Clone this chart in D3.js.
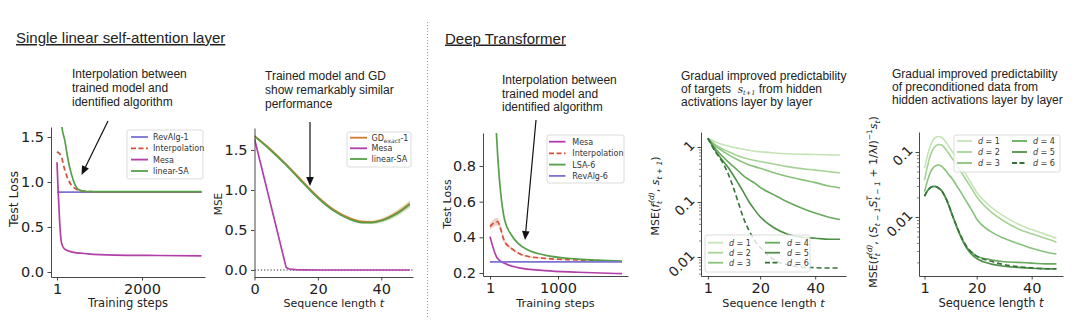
<!DOCTYPE html>
<html><head><meta charset="utf-8">
<script src="https://cdn.jsdelivr.net/npm/d3@7"></script>
<style>body{margin:0;background:#fff}svg{display:block}text{white-space:pre}</style>
</head><body>
<svg id="c" width="1080" height="336"></svg>
<script>
// ---------- DATA ----------
// Panel 1: single linear self-attention layer (test loss vs training steps)
const p1RevAlgSteps = [1, 3400];
const p1RevAlg = [0.888, 0.888];
const p1InterpSteps = [1, 50, 103, 181, 260, 338, 456, 573, 808, 1200, 2000, 3400];
const p1Interp = [1.335, 1.32, 1.28, 1.14, 1.03, 0.967, 0.92, 0.90, 0.892, 0.89, 0.89, 0.89];
const p1MesaSteps = [1, 30, 64, 103, 181, 338, 730, 1360, 2400, 3400];
const p1Mesa = [1.22, 0.88, 0.555, 0.335, 0.254, 0.224, 0.202, 0.188, 0.183, 0.18];
const p1LsaSteps = [1, 60, 119, 181, 260, 338, 417, 495, 652, 808, 1200, 2000, 3400];
const p1Lsa = [2.3, 1.9, 1.6, 1.47, 1.25, 1.09, 0.98, 0.92, 0.897, 0.893, 0.892, 0.892, 0.892];
const p1XTicks = [1, 2000];
const p1YTicks = [0, 0.5, 1.0, 1.5];

// Panel 2: MSE vs sequence length
const p2T = [0, 5, 10, 15, 20, 25, 30, 34, 37, 40, 45, 49];
const p2Gd = [1.675, 1.51, 1.32, 1.115, 0.915, 0.755, 0.65, 0.605, 0.6, 0.622, 0.715, 0.828];
const p2Lsa = [1.67, 1.50, 1.31, 1.10, 0.90, 0.74, 0.635, 0.592, 0.592, 0.615, 0.705, 0.82];
const p2Spread = [0.008, 0.008, 0.008, 0.008, 0.008, 0.01, 0.012, 0.015, 0.02, 0.025, 0.035, 0.045];
const p2MesaT = [0, 10, 11, 13, 16, 20, 30, 40, 49];
const p2Mesa = [1.64, 0.03, 0.012, 0.004, 0.001, 0, 0, 0, 0];
const p2XTicks = [0, 20, 40];
const p2YTicks = [0, 0.5, 1.0, 1.5];

// Panel 3: deep transformer test loss
const p3MesaSteps = [1, 109, 216, 413, 805, 1295, 1940];
const p3Mesa = [0.404, 0.282, 0.254, 0.23, 0.213, 0.204, 0.196];
const p3InterpSteps = [1, 109, 216, 315, 413, 511, 805, 1295, 1940];
const p3Interp = [0.46, 0.488, 0.376, 0.338, 0.312, 0.297, 0.282, 0.273, 0.264];
const p3InterpSpread = [0.018, 0.022, 0.012, 0.008, 0.006, 0.005, 0.004, 0.003, 0.003];
const p3LsaSteps = [1, 100, 216, 315, 413, 560, 805, 1295, 1940];
const p3Lsa = [1.9, 0.95, 0.497, 0.413, 0.366, 0.329, 0.30, 0.278, 0.267];
const p3RevAlgSteps = [1, 1940];
const p3RevAlg = [0.262, 0.262];
const p3XTicks = [1, 1000];
const p3YTicks = [0.2, 0.4, 0.6, 0.8];

// Panel 4: MSE of targets per layer d
const p4T = [1, 4, 6, 8, 10, 12, 14, 16, 18, 20, 25, 30, 35, 40, 45, 49];
const p4d1 = [1.44, 1.22, 1.12, 1.05, 0.99, 0.95, 0.91, 0.87, 0.84, 0.82, 0.78, 0.755, 0.74, 0.73, 0.72, 0.715];
const p4d2 = [1.44, 1.08, 0.94, 0.84, 0.76, 0.69, 0.64, 0.60, 0.57, 0.545, 0.49, 0.44, 0.405, 0.38, 0.355, 0.34];
const p4d3 = [1.44, 1.02, 0.87, 0.75, 0.655, 0.58, 0.52, 0.47, 0.44, 0.41, 0.34, 0.29, 0.255, 0.225, 0.195, 0.18];
const p4d4 = [1.44, 0.90, 0.70, 0.56, 0.455, 0.37, 0.30, 0.255, 0.22, 0.185, 0.135, 0.10, 0.078, 0.063, 0.053, 0.048];
const p4d5 = [1.44, 0.82, 0.60, 0.45, 0.32, 0.22, 0.15, 0.10, 0.072, 0.054, 0.034, 0.026, 0.023, 0.022, 0.021, 0.021];
const p4d6 = [1.44, 0.78, 0.56, 0.36, 0.20, 0.10, 0.05, 0.03, 0.02, 0.015, 0.009, 0.0072, 0.0066, 0.0064, 0.0063, 0.0063];
const p4XTicks = [1, 20, 40];
const p4YTicks = [0.01, 0.1, 1];

// Panel 5: MSE of preconditioned data per layer d
const p5T = [1, 2, 3, 4, 5, 6, 7, 8, 9, 10, 11, 12, 13, 14, 16, 18, 20, 25, 30, 35, 40, 45, 49];
const p5d1 = [0.056, 0.085, 0.12, 0.15, 0.167, 0.173, 0.17, 0.157, 0.138, 0.12, 0.103, 0.089, 0.076, 0.064, 0.046, 0.033, 0.024, 0.0145, 0.0102, 0.0078, 0.0064, 0.0054, 0.0047];
const p5d2 = [0.037, 0.058, 0.085, 0.108, 0.123, 0.13, 0.129, 0.12, 0.106, 0.093, 0.08, 0.07, 0.06, 0.052, 0.038, 0.028, 0.0205, 0.0122, 0.0086, 0.0066, 0.0055, 0.0047, 0.0041];
const p5d3 = [0.0245, 0.035, 0.047, 0.056, 0.061, 0.063, 0.061, 0.056, 0.05, 0.044, 0.039, 0.034, 0.029, 0.025, 0.018, 0.0132, 0.0093, 0.006, 0.0047, 0.0039, 0.0033, 0.0029, 0.0027];
const p5d4 = [0.021, 0.025, 0.028, 0.0295, 0.0295, 0.028, 0.026, 0.0225, 0.0185, 0.0145, 0.011, 0.0085, 0.0066, 0.0053, 0.0036, 0.0029, 0.0025, 0.0022, 0.00205, 0.002, 0.00195, 0.0019, 0.0019];
const p5d5 = [0.021, 0.025, 0.028, 0.0295, 0.0295, 0.028, 0.026, 0.0225, 0.0185, 0.0145, 0.011, 0.0085, 0.0066, 0.0052, 0.0035, 0.0027, 0.0023, 0.0019, 0.00175, 0.00168, 0.00163, 0.0016, 0.00158];
const p5d6 = [0.021, 0.025, 0.028, 0.0295, 0.0295, 0.028, 0.026, 0.0225, 0.0185, 0.0145, 0.011, 0.0086, 0.0067, 0.0054, 0.0037, 0.0029, 0.0025, 0.0021, 0.00185, 0.00172, 0.00165, 0.0016, 0.0016];
const p5XTicks = [1, 20, 40];
const p5YTicks = [0.01, 0.1];

// ---------- STYLE ----------
const COL = {revalg:'#7b72d3', interp:'#d4503e', mesa:'#b23fa8', lsa:'#55a047', gd:'#d27a2e'};
const GREENS = ['#c5e4b6','#a6d396','#88c27a','#68aa5d','#4e9049','#36713a'];
const SANS = 'DejaVu Sans, sans-serif';
const ARIAL = 'Liberation Sans, Arial, sans-serif';
const svg = d3.select('#c');

function rich(parent, x, y, segs, base){
  const t = parent.append('text').attr('x',x).attr('y',y)
    .attr('font-family',base.family||SANS).attr('font-size',base.size||11).attr('fill',base.fill||'#222');
  if(base.anchor) t.attr('text-anchor',base.anchor);
  if(base.transform) t.attr('transform',base.transform);
  let cur = 0;
  segs.forEach(s=>{
    const off = s.off||0;
    const ts = t.append('tspan').text(s.t).attr('dy',off-cur);
    cur = off;
    if(s.size) ts.attr('font-size',s.size);
    if(s.it) ts.attr('font-style','italic');
    if(s.dx) ts.attr('dx',s.dx);
    if(s.fam) ts.attr('font-family',s.fam);
  });
  return t;
}

function panel(o){
  const x = d3.scaleLinear().domain(o.xd).range([o.L,o.R]);
  const y = (o.log?d3.scaleLog():d3.scaleLinear()).domain(o.yd).range([o.B,o.T]);
  const id = 'clip'+o.id;
  svg.append('clipPath').attr('id',id).append('rect')
    .attr('x',o.L).attr('y',o.T).attr('width',o.R-o.L).attr('height',o.B-o.T);
  const plot = svg.append('g').attr('clip-path',`url(#${id})`);
  return {x,y,plot,o};
}

function line(p, xs, ys, opt){
  const data = xs.map((d,i)=>[d, ys[i]]);
  const gen = d3.line().x(d=>p.x(d[0])).y(d=>p.y(d[1])).curve(opt.curve||d3.curveMonotoneX);
  p.plot.append('path').attr('d',gen(data)).attr('fill','none')
    .attr('stroke',opt.color).attr('stroke-width',opt.w||1.7)
    .attr('stroke-dasharray',opt.dash||null).attr('stroke-linejoin','round');
}
function band(p, xs, ys, hw, color, op){
  const data = xs.map((d,i)=>[d, ys[i], hw[i]]);
  const gen = d3.area().x(d=>p.x(d[0])).y0(d=>p.y(d[1]-d[2])).y1(d=>p.y(d[1]+d[2])).curve(d3.curveMonotoneX);
  p.plot.append('path').attr('d',gen(data)).attr('fill',color).attr('opacity',op);
}

function axes(p, xt, yt, yfmt, opts){
  const o = p.o; opts = opts||{};
  const fs = opts.fs||14.5;
  const gx = svg.append('g').attr('transform',`translate(0,${o.B})`)
    .call(d3.axisBottom(p.x).tickValues(xt).tickSize(3.5).tickPadding(3).tickSizeOuter(0).tickFormat(d3.format('d')));
  const gy = svg.append('g').attr('transform',`translate(${o.L},0)`)
    .call(d3.axisLeft(p.y).tickValues(yt).tickSize(3.5).tickPadding(3.5).tickSizeOuter(0).tickFormat(yfmt));
  if(o.log && opts.minor){
    svg.append('g').attr('transform',`translate(${o.L},0)`)
      .call(d3.axisLeft(p.y).tickValues(opts.minor).tickSize(2).tickFormat('').tickSizeOuter(0))
      .call(g=>g.select('.domain').remove())
      .call(g=>g.selectAll('line').attr('stroke','#333').attr('stroke-width',0.6));
  }
  [gx,gy].forEach(g=>{
    g.select('.domain').attr('stroke','#333').attr('stroke-width',0.9);
    g.selectAll('.tick line').attr('stroke','#333').attr('stroke-width',0.9);
    g.selectAll('text').attr('font-family',SANS).attr('font-size',fs).attr('fill','#222');
  });
  if(opts.rot){
    gy.selectAll('.tick text').attr('x',0).attr('dy',0).attr('text-anchor','end')
      .attr('font-size',13.5).attr('transform','translate(-5.5,-1) rotate(-45)');
  }
}

function legend(box, items, rows, cols, fs){
  svg.append('rect').attr('x',box[0]).attr('y',box[1]).attr('width',box[2]).attr('height',box[3])
    .attr('rx',2).attr('fill','#fff').attr('fill-opacity',0.8).attr('stroke','#d3d3d3').attr('stroke-width',0.8);
  items.forEach((it,i)=>{
    const c = cols[Math.floor(i/rows.length)], yy = rows[i%rows.length];
    svg.append('line').attr('x1',c[0]).attr('x2',c[1]).attr('y1',yy).attr('y2',yy)
      .attr('stroke',it.color).attr('stroke-width',1.8).attr('stroke-dasharray',it.dash||null);
    rich(svg, c[2], yy+2.9, it.seg, {size:fs||8, fill:'#333'});
  });
}

function arrow(x1,y1,x2,y2){
  const L = Math.hypot(x2-x1,y2-y1), ux=(x2-x1)/L, uy=(y2-y1)/L, hl=9, hw=3.8;
  const bx = x2-ux*hl, by = y2-uy*hl;
  svg.append('line').attr('x1',x1).attr('y1',y1).attr('x2',bx).attr('y2',by).attr('stroke','#111').attr('stroke-width',1.2);
  svg.append('polygon').attr('points',[[x2,y2],[bx-uy*hw,by+ux*hw],[bx+uy*hw,by-ux*hw]].map(p=>p.join(',')).join(' ')).attr('fill','#111');
}

function textLines(x, y0, dy, lines, size){
  lines.forEach((l,i)=>{
    const segs = typeof l === 'string' ? [{t:l}] : l;
    rich(svg, x, y0+i*dy, segs, {family:ARIAL, size:size||12, fill:'#222'});
  });
}
function xlabel(p, segs, size){ rich(svg, (p.o.L+p.o.R)/2, 307, segs, {size:size||11, anchor:'middle'}); }
function ylabel(x, y, segs, size){ rich(svg, 0, 0, segs, {size:size||11, anchor:'middle', transform:`translate(${x},${y}) rotate(-90)`}); }

// ---------- TITLES / SEPARATOR ----------
svg.append('text').attr('x',16).attr('y',43).attr('font-family',ARIAL).attr('font-size',15).attr('fill','#222')
  .attr('text-decoration','underline').text('Single linear self-attention layer');
svg.append('text').attr('x',445).attr('y',43.5).attr('font-family',ARIAL).attr('font-size',15).attr('fill','#222')
  .attr('text-decoration','underline').text('Deep Transformer');
svg.append('line').attr('x1',427.5).attr('x2',427.5).attr('y1',22).attr('y2',318)
  .attr('stroke','#999').attr('stroke-width',1).attr('stroke-dasharray','1,2');

// ---------- PANEL 1 ----------
const P1 = panel({id:1, L:51, R:205, T:127, B:277, xd:[-140,3482], yd:[-0.0556,1.611]});
line(P1, p1RevAlgSteps, p1RevAlg, {color:COL.revalg, curve:d3.curveLinear});
line(P1, p1InterpSteps, p1Interp, {color:COL.interp, dash:'5,3'});
line(P1, p1MesaSteps, p1Mesa, {color:COL.mesa});
line(P1, p1LsaSteps, p1Lsa, {color:COL.lsa});
axes(P1, p1XTicks, p1YTicks, d3.format('.1f'));
xlabel(P1, [{t:'Training steps'}], 11.5);
ylabel(18, 199, [{t:'Test Loss'}], 12.5);
legend([127,130,76,49], [
  {seg:[{t:'RevAlg-1'}], color:COL.revalg},
  {seg:[{t:'Interpolation'}], color:COL.interp, dash:'5,2.5'},
  {seg:[{t:'Mesa'}], color:COL.mesa},
  {seg:[{t:'linear-SA'}], color:COL.lsa}
], [137,148.3,159.6,171], [[131,148,153]]);
textLines(72, 78, 14, ['Interpolation between','trained model and','identified algorithm']);
arrow(108,121,81.5,175);

// ---------- PANEL 2 ----------
const P2 = panel({id:2, L:254.5, R:413, T:128, B:277, xd:[0,50], yd:[-0.0875,1.775]});
P2.plot.append('line').attr('x1',P2.o.L).attr('x2',P2.o.R).attr('y1',P2.y(0)).attr('y2',P2.y(0))
  .attr('stroke','#111').attr('stroke-width',0.9).attr('stroke-dasharray','1.2,2');
band(P2, p2T, p2Gd, p2Spread, '#e8b27a', 0.45);
band(P2, p2T, p2Lsa, p2Spread, '#a9cf9a', 0.4);
line(P2, p2T, p2Gd, {color:COL.gd});
line(P2, p2MesaT, p2Mesa, {color:COL.mesa, curve:d3.curveLinear});
line(P2, p2T, p2Lsa, {color:COL.lsa});
axes(P2, p2XTicks, p2YTicks, d3.format('.1f'));
xlabel(P2, [{t:'Sequence length '},{t:'t', it:true}], 11);
ylabel(222, 204, [{t:'MSE'}], 10.5);
legend([347,132,64,35], [
  {seg:[{t:'GD'},{t:'exact',size:6,it:true,off:2},{t:'-1',off:0}], color:COL.gd},
  {seg:[{t:'Mesa'}], color:COL.mesa},
  {seg:[{t:'linear-SA'}], color:COL.lsa}
], [137.7,148.3,159], [[350,367,371.5]]);
textLines(265, 80, 14, ['Trained model and GD','show remarkably similar','performance']);
arrow(310,122,310,186);

// ---------- PANEL 3 ----------
const P3 = panel({id:3, L:483, R:628, T:133, B:276, xd:[-101.8,2028], yd:[0.183,0.985]});
band(P3, p3InterpSteps, p3Interp, p3InterpSpread, '#eea596', 0.55);
line(P3, p3MesaSteps, p3Mesa, {color:COL.mesa});
line(P3, p3InterpSteps, p3Interp, {color:COL.interp, dash:'5,3'});
line(P3, p3LsaSteps, p3Lsa, {color:COL.lsa});
line(P3, p3RevAlgSteps, p3RevAlg, {color:COL.revalg, curve:d3.curveLinear});
axes(P3, p3XTicks, p3YTicks, d3.format('.1f'));
xlabel(P3, [{t:'Training steps'}], 11.3);
ylabel(451, 204, [{t:'Test Loss'}], 11);
legend([547,135,77,48], [
  {seg:[{t:'Mesa'}], color:COL.mesa},
  {seg:[{t:'Interpolation'}], color:COL.interp, dash:'5,2.5'},
  {seg:[{t:'LSA-6'}], color:COL.lsa},
  {seg:[{t:'RevAlg-6'}], color:COL.revalg}
], [141.7,153.3,164.6,175.9], [[549,565.5,572.3]]);
textLines(502, 84, 13.7, ['Interpolation between','trained model and','identified algorithm']);
arrow(536,120,525,240);

// ---------- PANEL 4 ----------
const P4 = panel({id:4, L:701, R:846, T:132, B:276, xd:[-1.5,51.2], yd:[0.00452,1.874], log:true});
[p4d1,p4d2,p4d3,p4d4,p4d5,p4d6].forEach((s,i)=>line(P4, p4T, s, {color:GREENS[i], w:1.6, dash:i===5?'5,3':null}));
const minor4 = [];
[0.001,0.01,0.1].forEach(b=>{for(let k=2;k<=9;k++){const v=b*k; if(v>0.00452&&v<1.874) minor4.push(v);}});
axes(P4, p4XTicks, p4YTicks, d=>d===1?'1':String(d), {rot:true, minor:minor4});
xlabel(P4, [{t:'Sequence length '},{t:'t', it:true}], 11.2);
ylabel(659, 196, [{t:'MSE('},{t:'f',it:true},{t:'t',it:true,size:7.5,off:3},{t:'(d)',it:true,size:7.5,off:-5,dx:-2},{t:', ',off:0},{t:'s',it:true},{t:'t + 1',it:true,size:7.5,off:3},{t:')',off:0}], 11);
legend([705,235,105,37],
  [1,2,3,4,5,6].map((d,i)=>({seg:[{t:'d',it:true},{t:' = '+d}], color:GREENS[i], dash:i===5?'5,2.5':null})),
  [242.7,252.7,262.7], [[708,723,729],[765,780,787]]);
textLines(681, 80, 13, ['Gradual improved predictability',
  [{t:'of targets  '},{t:'s',it:true,fam:'DejaVu Serif, serif',size:10.5},{t:'t+1',it:true,size:6.5,off:2,fam:'DejaVu Serif, serif'},{t:' from hidden',off:0}],
  'activations layer by layer']);

// ---------- PANEL 5 ----------
const P5 = panel({id:5, L:919, R:1063, T:132, B:276, xd:[-1,51.4], yd:[0.001236,0.203], log:true});
[p5d1,p5d2,p5d3,p5d4,p5d5,p5d6].forEach((s,i)=>line(P5, p5T, s, {color:GREENS[i], w:1.6, dash:i===5?'5,3':null}));
const minor5 = [];
[0.001,0.01,0.1].forEach(b=>{for(let k=2;k<=9;k++){const v=b*k; if(v>0.001236&&v<0.2) minor5.push(v);}});
axes(P5, p5XTicks, p5YTicks, d=>String(d), {rot:true, minor:minor5});
xlabel(P5, [{t:'Sequence length '},{t:'t', it:true}], 11.5);
ylabel(877, 202, [{t:'MSE('},{t:'f',it:true},{t:'t',it:true,size:7.5,off:3},{t:'(d)',it:true,size:7.5,off:-5,dx:-2},{t:', (',off:0},
  {t:'S',it:true},{t:'t − 1',it:true,size:7.5,off:3},{t:'S',it:true,off:0},{t:'T',it:true,size:7.5,off:-5},{t:'t − 1',it:true,size:7.5,off:3,dx:-4},
  {t:' + 1/λ',off:0},{t:'I',it:true},{t:')'},{t:'−1',size:7.5,off:-5},{t:'s',it:true,off:0},{t:'t',it:true,size:7.5,off:3},{t:')',off:0}], 11);
legend([954,135,106,37],
  [1,2,3,4,5,6].map((d,i)=>({seg:[{t:'d',it:true},{t:' = '+d}], color:GREENS[i], dash:i===5?'5,2.5':null})),
  [141,152,163], [[957,972,978],[1012,1027,1033]]);
textLines(892, 78, 13, ['Gradual improved predictability','of preconditioned data from','hidden activations layer by layer']);
</script>
</body></html>
